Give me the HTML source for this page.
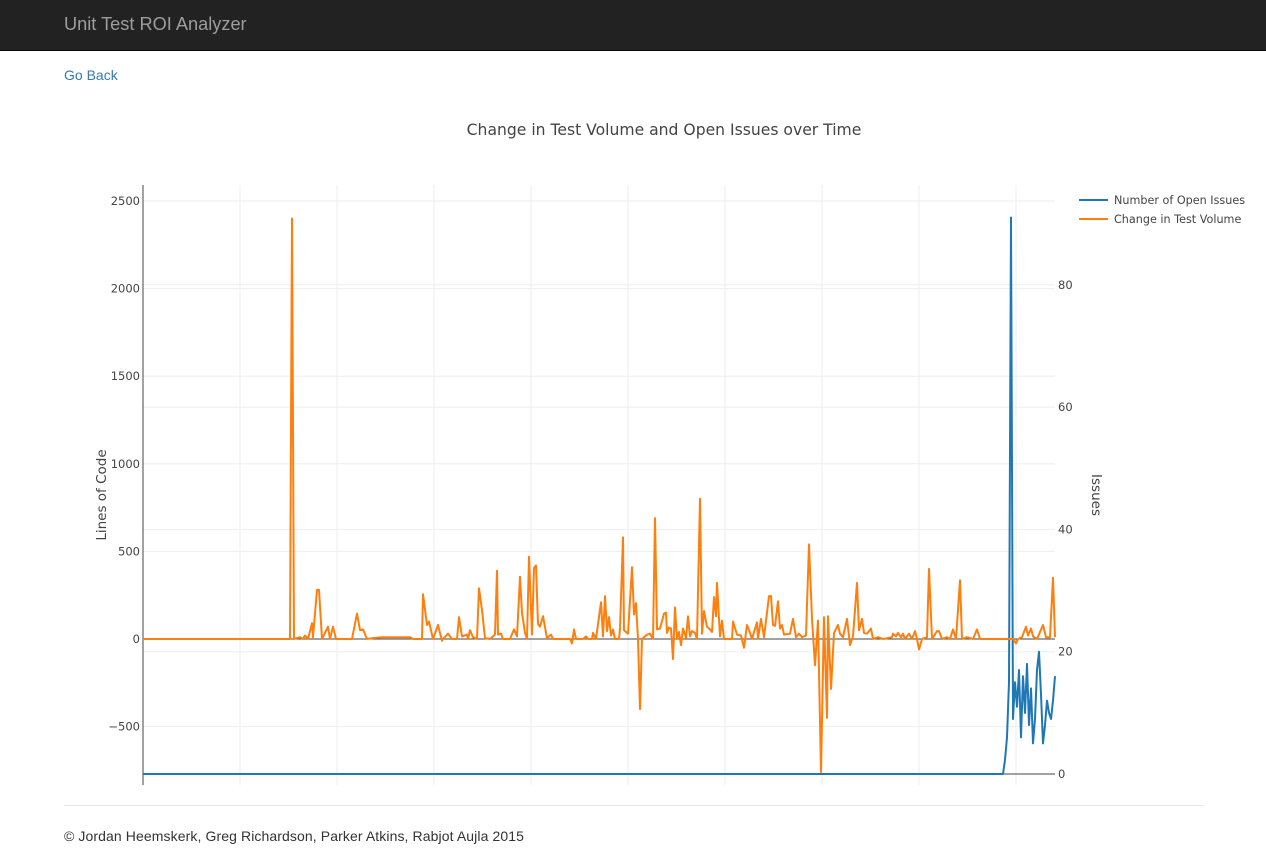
<!DOCTYPE html>
<html><head><meta charset="utf-8">
<style>
body{margin:0;width:1266px;height:862px;background:#fff;font-family:"Liberation Sans",sans-serif;overflow:hidden;position:relative}
.nav{position:absolute;left:0;top:0;width:1266px;height:50px;background:#222;border-bottom:1px solid #080808}
.brand{position:absolute;left:64px;top:14px;font-size:18.2px;color:#9d9d9d}
.back{position:absolute;left:64px;top:67px;font-size:14px;color:#337ab7;text-decoration:none}
.hr{position:absolute;left:64px;top:805px;width:1139px;border-top:1px solid #e5e5e5}
.foot{position:absolute;left:64px;top:828px;font-size:14px;color:#333;letter-spacing:0.1px}
svg{position:absolute;left:0;top:0}
svg text{font-family:"DejaVu Sans","Liberation Sans",sans-serif}
</style></head><body>
<div class="nav"><span class="brand">Unit Test ROI Analyzer</span></div>
<a class="back" href="#">Go Back</a>
<svg id="chart" width="1266" height="862"></svg>
<div class="hr"></div>
<div class="foot">© Jordan Heemskerk, Greg Richardson, Parker Atkins, Rabjot Aujla 2015</div>
<script>
// time index and series values
const orangeX = [143,290,292,294,300,303,305,308,312,313,317,319,322,328,330,333,336,352,357,360,363,367,373,382,410,413,422,423,427,429,433,438,442,443,448,452,457,459,462,467,468,470,473,477,479,482,485,490,495,497,498,501,503,510,514,517,520,522,525,527,529,532,534,536,538,540,543,547,551,553,570,572,574,576,583,586,588,592,593,596,601,603,605,607,609,611,613,615,619,620,623,624,628,632,634,636,638,640,642,647,650,653,655,657,660,664,666,667,669,671,673,675,677,679,681,683,686,688,690,692,695,697,700,702,704,707,710,712,714,716,717,720,722,724,732,733,737,741,744,747,749,752,757,758,761,764,769,771,773,775,778,780,782,784,790,793,796,799,802,806,809,812,815,818,821,824,827,828,831,834,838,840,843,847,850,853,857,859,862,864,867,871,873,878,883,892,893,896,898,901,903,905,909,912,915,917,919,922,927,929,932,937,939,942,947,950,953,956,960,962,967,973,977,980,1013,1016,1018,1022,1026,1028,1031,1033,1037,1043,1046,1050,1053,1055];
const orangeY = [0,0,2400,0,10,0,20,0,90,10,280,280,0,70,0,70,0,0,145,50,55,0,5,10,10,0,0,255,80,100,0,80,-10,0,30,0,0,125,15,25,0,50,10,0,290,165,5,0,25,390,25,30,0,0,55,15,355,150,35,0,470,25,405,420,85,70,130,5,25,0,0,-25,55,0,0,15,0,0,35,0,210,15,245,45,125,20,55,0,0,60,580,50,30,410,140,205,0,-400,0,25,30,0,690,55,60,145,150,35,65,60,-115,180,0,40,-35,60,5,130,15,45,35,0,800,30,160,70,55,40,240,130,320,15,105,0,0,100,25,20,-50,80,50,0,95,0,115,10,245,245,80,75,215,60,80,25,30,115,10,30,10,20,540,115,-150,105,-760,125,-450,130,-285,35,80,30,10,115,-35,15,320,50,115,35,30,60,0,10,0,10,30,15,35,10,30,0,30,0,45,0,-60,0,10,400,0,45,45,0,10,0,55,0,335,0,10,0,55,0,0,-25,0,10,70,20,60,15,0,80,10,10,350,10];
const blueX = [143,1003,1005,1007,1009,1011,1013,1015,1017,1019,1021,1023,1025,1027,1029,1031,1033,1035,1037,1039,1041,1043,1045,1047,1049,1051,1053,1055];
const blueY = [0,0,2.3,6,15,91,9,15,11,17,6,16,10,18,8,14,5,9,17,20,13,5,8,12,10,9,12,16];
const leftTicks = [-500,0,500,1000,1500,2000,2500];
const rightTicks = [0,20,40,60,80];
const legendLabels = ["Number of Open Issues","Change in Test Volume"];

const NS="http://www.w3.org/2000/svg";
const svg=document.getElementById('chart');
const L=143,R=1055,T=185,B=785;
const X0=143,X1=1055;
const xs=v=>L+(v-X0)*(R-L)/(X1-X0);
const yl=v=>639-v*0.1752;
const yr=v=>774-v*6.115;
function mk(tag,attrs,parent){const e=document.createElementNS(NS,tag);for(const k in attrs)e.setAttribute(k,attrs[k]);(parent||svg).appendChild(e);return e;}
for(let i=1;i<=9;i++){const x=L+i*97;const g=mk('line',{x1:x,x2:x,y1:T,y2:B,stroke:'#eee'});

}
leftTicks.forEach(v=>{const y=yl(v);const g=mk('line',{x1:L,x2:R,y1:y,y2:y,stroke:v===0?'#444':'#eee'});


const t=mk('text',{x:L-3,y:y+4,'text-anchor':'end','font-size':11.5,fill:'#444'});t.textContent=v<0?'\u2212'+(-v):v;

});
rightTicks.forEach(v=>{const y=yr(v);const g=mk('line',{x1:L,x2:R,y1:y,y2:y,stroke:v===0?'#444':'#eee'});


const t=mk('text',{x:R+3,y:y+4,'font-size':11.5,fill:'#444'});t.textContent=v;

});
mk('line',{x1:L,x2:L,y1:T,y2:B,stroke:'#444'});
function path(X,Y,yf,c,name){let d='';X.forEach((x,i)=>{d+=(i?'L':'M')+xs(x).toFixed(1)+','+yf(Y[i]).toFixed(1);});
const p=mk('path',{d:d,fill:'none',stroke:c,'stroke-width':2,'stroke-linejoin':'round'});

}
path(blueX,blueY,yr,'#1f77b4','open-issues-line');
path(orangeX,orangeY,yl,'#ff7f0e','test-volume-line');
const tt=mk('text',{x:664,y:135,'text-anchor':'middle','font-size':15.6,fill:'#444'});tt.textContent='Change in Test Volume and Open Issues over Time';


const ly=mk('text',{x:0,y:0,transform:'translate(106,495) rotate(-90)','text-anchor':'middle','font-size':13.5,fill:'#444'});ly.textContent='Lines of Code';


const ry=mk('text',{x:0,y:0,transform:'translate(1092,495) rotate(90)','text-anchor':'middle','font-size':13.5,fill:'#444'});ry.textContent='Issues';


['#1f77b4','#ff7f0e'].forEach((c,i)=>{const y=200+i*19;mk('line',{x1:1079,x2:1108,y1:y,y2:y,stroke:c,'stroke-width':2});
const t=mk('text',{x:1114,y:y+4,'font-size':11.2,fill:'#444'});t.textContent=legendLabels[i];

});
</script>
</body></html>
